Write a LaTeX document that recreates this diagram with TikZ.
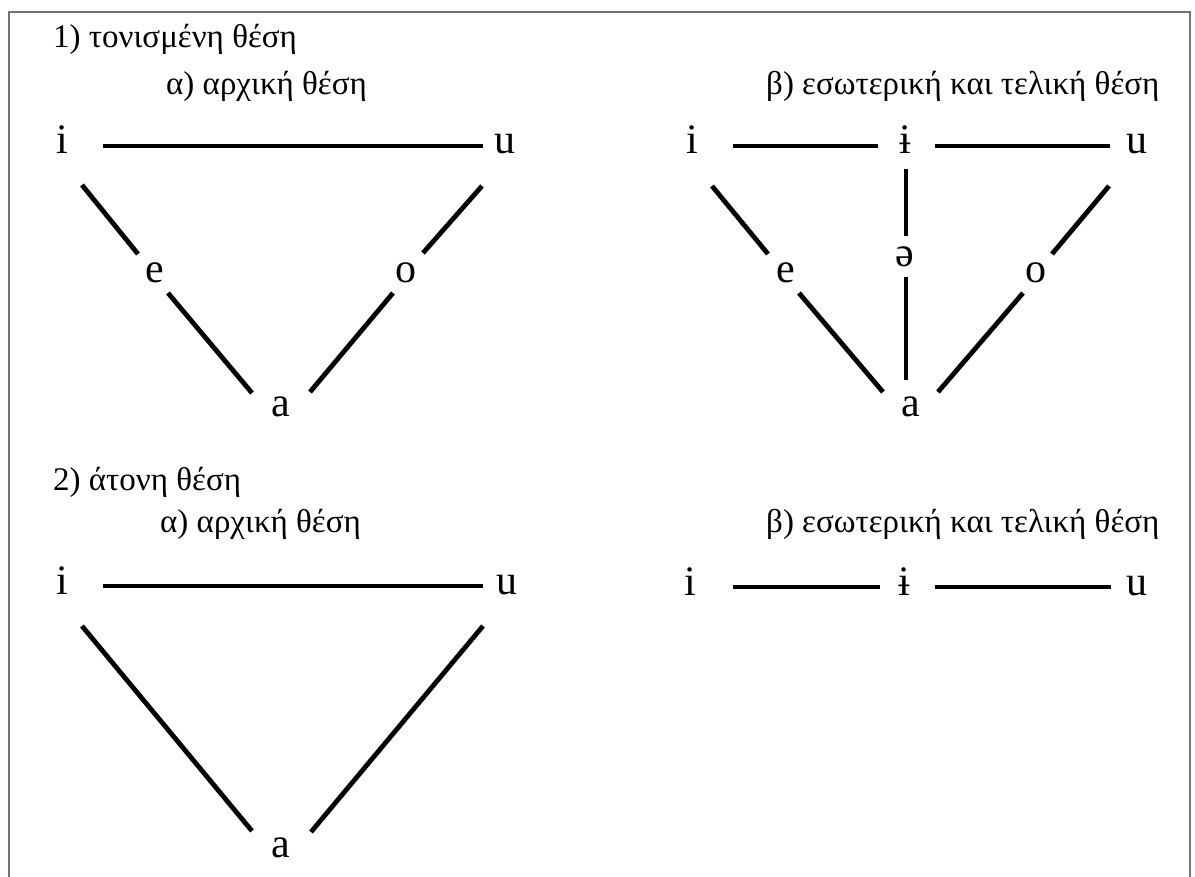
\documentclass[tikz,border=0pt]{standalone}
\usepackage{fontspec}
\setmainfont{Liberation Serif}
\usetikzlibrary{calc}
\tikzset{
  vowel/.style={font=\fontsize{42}{46}\selectfont, inner sep=0pt, anchor=base},
  title/.style={font=\fontsize{33}{38}\selectfont, inner sep=0pt, anchor=base west},
  link/.style={line width=4.8pt},
  frame/.style={draw=black!55, line width=1.3pt}
}
\begin{document}
\begin{tikzpicture}[x=1pt,y=-1pt]
\useasboundingbox[fill=white] (0,0) rectangle (1195,877);
\draw[frame] (9,877) -- (9,12) -- (1190,12) -- (1190,877);

% titles
\node[title] (t1) at (53,48) {1) τονισμένη θέση};
\node[title] (t1a) at (166,95) {α) αρχική θέση};
\node[title] (t1b) at (766,95) {β) εσωτερική και τελική θέση};
\node[title] (t2) at (53,490) {2) άτονη θέση};
\node[title] (t2a) at (160,532) {α) αρχική θέση};
\node[title] (t2b) at (766,532) {β) εσωτερική και τελική θέση};

% panel 1 alpha
\node[vowel] (i1) at (62,154) {i};
\node[vowel] (u1) at (505,154) {u};
\node[vowel] (e1) at (155,283) {e};
\node[vowel] (o1) at (406,283) {o};
\node[vowel] (a1) at (281,417) {a};
\draw[link] ($(i1.base)+(41,-8)$) -- ($(u1.base)+(-22,-8)$);
\draw[link] ($(i1.base)+(20,31)$) -- ($(e1.base)+(-17,-29)$);
\draw[link] ($(e1.base)+(13,10)$) -- ($(a1.base)+(-29,-24)$);
\draw[link] ($(a1.base)+(29,-25)$) -- ($(o1.base)+(-13,10)$);
\draw[link] ($(o1.base)+(17,-30)$) -- ($(u1.base)+(-23,32)$);

% panel 1 beta
\node[vowel] (i2) at (692,154) {i};
\node[vowel] (ib2) at (905,154) {ɨ};
\node[vowel] (u2) at (1137,154) {u};
\node[vowel] (e2) at (786,283) {e};
\node[vowel] (s2) at (905,267) {ə};
\node[vowel] (o2) at (1036,283) {o};
\node[vowel] (a2) at (911,417) {a};
\draw[link] ($(i2.base)+(41,-8)$) -- ($(ib2.base)+(-27,-8)$);
\draw[link] ($(ib2.base)+(30,-8)$) -- ($(u2.base)+(-27,-8)$);
\draw[link] ($(ib2.base)+(1,15)$) -- ($(s2.base)+(1,-31)$);
\draw[link] ($(s2.base)+(1,10)$) -- ($(a2.base)+(-5,-37)$);
\draw[link] ($(i2.base)+(20,32)$) -- ($(e2.base)+(-18,-29)$);
\draw[link] ($(e2.base)+(13,10)$) -- ($(a2.base)+(-28,-25)$);
\draw[link] ($(a2.base)+(27,-25)$) -- ($(o2.base)+(-13,10)$);
\draw[link] ($(o2.base)+(16,-29)$) -- ($(u2.base)+(-28,32)$);

% panel 2 alpha
\node[vowel] (i3) at (62,594) {i};
\node[vowel] (u3) at (507,594) {u};
\node[vowel] (a3) at (281,857) {a};
\draw[link] ($(i3.base)+(41,-8)$) -- ($(u3.base)+(-24,-8)$);
\draw[link] ($(i3.base)+(20,32)$) -- ($(a3.base)+(-29,-26)$);
\draw[link] ($(a3.base)+(30,-25)$) -- ($(u3.base)+(-24,32)$);

% panel 2 beta
\node[vowel] (i4) at (690,595) {i};
\node[vowel] (ib4) at (904,595) {ɨ};
\node[vowel] (u4) at (1137,595) {u};
\draw[link] ($(i4.base)+(43,-8)$) -- ($(ib4.base)+(-24,-8)$);
\draw[link] ($(ib4.base)+(31,-8)$) -- ($(u4.base)+(-26,-8)$);
\end{tikzpicture}
\end{document}
